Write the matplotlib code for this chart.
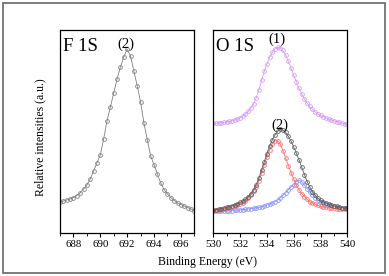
import matplotlib
matplotlib.use("Agg")
import matplotlib.pyplot as plt
from matplotlib.patches import Rectangle
from matplotlib.ticker import MultipleLocator
import numpy as np

plt.rcParams['font.family'] = ['Liberation Serif', 'DejaVu Serif']

# F 1s spectrum, 0.25 eV steps
f_energy = np.arange(687.0, 697.01, 0.25)
f_counts = [31, 32, 33, 34, 35.5, 37.5, 40, 44, 48, 54, 62, 70, 78, 94,
            112, 126, 140, 154, 166, 176, 183.7, 177, 162, 147, 131, 110,
            93, 77, 68.5, 59, 50, 43.5, 39, 35.5, 32.5, 30, 28.5, 27, 25.5,
            24, 22.5]

# O 1s spectra, 0.2 eV steps
o_energy = np.arange(530.0, 540.01, 0.2)
o_sample1 = [109.5, 109.8, 110.1, 110.4, 110.8, 111.2, 111.7, 112.3, 113.0,
             114.0, 115.2, 116.8, 118.8, 121.5, 125.0, 129.0, 135.0, 143.0,
             152.5, 161.5, 169.0, 175.5, 180.5, 184.0, 185.7, 185.0, 182.5,
             178.0, 171.5, 165.0, 158.0, 151.0, 144.5, 139.0, 134.0, 130.0,
             126.5, 123.5, 121.0, 119.0, 117.5, 116.2, 115.0, 114.0, 113.0,
             112.2, 111.4, 110.7, 110.0, 109.2, 108.5]
o_sample2 = [23.0, 23.4, 23.9, 24.4, 25.0, 25.7, 26.5, 27.3, 28.3, 29.4, 30.6,
             32.0, 33.8, 36.2, 39.5, 43.5, 48.5, 55.0, 63.0, 71.0, 79.5, 87.0,
             93.0, 98.0, 101.8, 103.7, 103.0, 100.5, 96.5, 92.0, 86.0, 79.7,
             73.0, 65.8, 58.5, 51.5, 46.0, 41.5, 38.0, 35.0, 32.8, 31.2, 30.0,
             29.0, 28.1, 27.3, 26.6, 26.0, 25.5, 25.1, 24.7]
o_comp_a = [22.3, 22.7, 23.1, 23.6, 24.1, 24.7, 25.3, 26.0, 26.9, 27.8, 28.9,
            30.3, 32.2, 34.6, 37.8, 41.8, 46.5, 52.0, 59.7, 67.7, 76.0, 83.5,
            89.0, 92.2, 92.5, 89.0, 82.5, 75.0, 67.5, 60.5, 54.0, 48.0, 43.3,
            39.5, 36.3, 33.6, 31.3, 29.8, 28.6, 27.6, 26.8, 26.2, 25.7, 25.3,
            24.9, 24.6, 24.4, 24.2, 24.0, 23.8, 23.7]
o_comp_b = [21.8, 21.8, 21.9, 22.0, 22.1, 22.2, 22.3, 22.5, 22.7, 22.9, 23.1,
            23.4, 23.6, 24.0, 24.4, 24.8, 25.2, 25.6, 26.4, 27.2, 28.0, 29.0,
            30.2, 31.5, 33.0, 35.2, 37.8, 40.5, 43.2, 46.0, 48.5, 51.5, 53.0,
            51.0, 48.0, 44.5, 41.3, 38.3, 35.5, 33.2, 31.5, 30.2, 29.2, 28.3,
            27.6, 27.0, 26.5, 26.0, 25.5, 25.1, 24.7]

fig = plt.figure(figsize=(3.89, 2.76), dpi=100)
fig.patches.append(Rectangle((3 / 389, 3 / 276), 382 / 389, 270 / 276,
                             transform=fig.transFigure, fill=False,
                             edgecolor='#666666', lw=1.2))

ax1 = fig.add_axes([60 / 389, 43 / 276, 134.3 / 389, 203 / 276])
ax2 = fig.add_axes([213.3 / 389, 43 / 276, 134 / 389, 203 / 276])

mk = dict(marker='o', mfc='none', ms=2.7, mew=0.6, lw=0.6)
ax1.plot(f_energy, f_counts, color='#808080', **mk)
ax2.plot(o_energy, o_sample1, color='#d49cf5', **mk)
ax2.plot(o_energy, o_comp_b, color='#8c94ff', **mk)
ax2.plot(o_energy, o_comp_a, color='#ff7070', **mk)
ax2.plot(o_energy, o_sample2, color='#606060', **mk)

ax1.set_xlim(687, 697)
ax2.set_xlim(530, 540)
ax1.set_xticks([688, 690, 692, 694, 696])
ax2.set_xticks([530, 532, 534, 536, 538, 540])

for ax in (ax1, ax2):
    ax.set_ylim(0, 203)
    ax.set_yticks([])
    ax.xaxis.set_minor_locator(MultipleLocator(1))
    ax.tick_params(axis='x', which='major', direction='out', length=3,
                   width=0.8, labelsize=7.8, pad=2)
    ax.tick_params(axis='x', which='minor', direction='out', length=2,
                   width=0.6)
    for s in ax.spines.values():
        s.set_linewidth(0.9)

ax1.text(0.02, 0.899, 'F 1S', transform=ax1.transAxes, fontsize=13.5,
         va='baseline', ha='left')
ax2.text(0.02, 0.899, 'O 1S', transform=ax2.transAxes, fontsize=13.5,
         va='baseline', ha='left')
ax1.text(691.9, 188.5, '(2)', fontsize=10.5, ha='center', va='center')
ax2.text(534.75, 194, '(1)', fontsize=10.5, ha='center', va='center')
ax2.text(535.0, 108, '(2)', fontsize=10.5, ha='center', va='center')

fig.text(207 / 389, (276 - 262) / 276, 'Binding Energy (eV)', fontsize=8.5,
         ha='center', va='center')
fig.text(40 / 389, 0.502, 'Relative intensities (a.u.)', fontsize=8.5,
         ha='center', va='center', rotation=90)

fig.savefig('out.png', dpi=100)
